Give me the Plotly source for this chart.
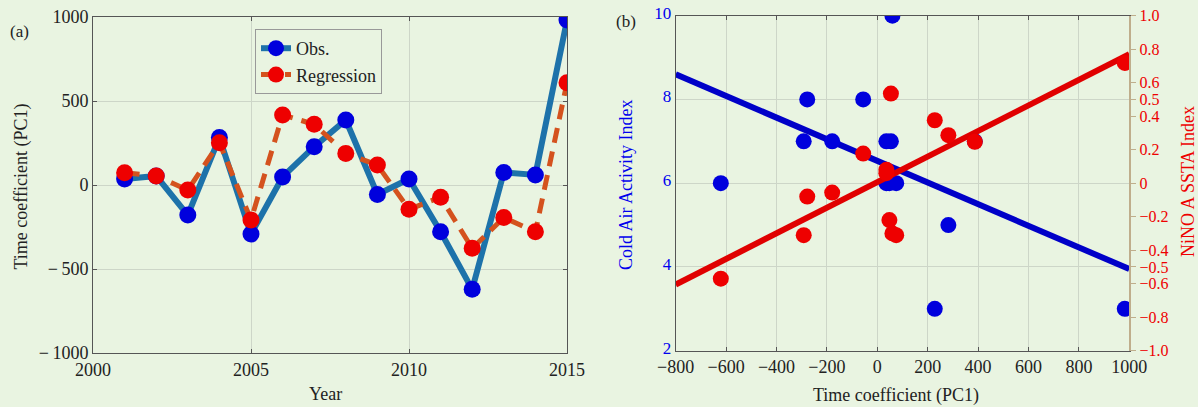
import plotly.graph_objects as go

# ---- data -------------------------------------------------------------
years = [2001, 2002, 2003, 2004, 2005, 2006, 2007, 2008,
         2009, 2010, 2011, 2012, 2013, 2014, 2015]
pc1_obs = [36, 54, -179, 282, -292, 48, 228, 387,
           -56, 36, -278, -621, 75, 60, 982]
pc1_reg = [73, 54, -30, 252, -208, 417, 361, 188,
           119, -145, -73, -377, -194, -278, 609]

cold_air_index = [6, 7, 7, 5, 7, 6, 3, 7, 8, 7, 8, 6, 6, 10, 3]
nino_a_ssta = [0.06, 0.535, -0.056, 0.287, -0.31, -0.22, 0.376, 0.247,
               0.177, 0.08, -0.08, -0.57, -0.31, -0.30, 0.718]

fit_x = [-800, 1000]
fit_cold = [8.6, 3.95]
fit_nino = [-0.605, 0.77]

year_ticks = [2000, 2005, 2010, 2015]
pc_ticks = [-1000, -500, 0, 500, 1000]
pc_ticktext = ["\u2212\u20091000", "\u2212\u2009500", "0", "500", "1000"]
coef_ticks = [-800, -600, -400, -200, 0, 200, 400, 600, 800, 1000]
coef_ticktext = ["\u2212800", "\u2212600", "\u2212400", "\u2212200", "0",
                 "200", "400", "600", "800", "1000"]
cold_ticks = [2, 4, 6, 8, 10]
nino_ticks = [1.0, 0.8, 0.6, 0.5, 0.4, 0.2, 0, -0.2, -0.4, -0.5, -0.6, -0.8, -1.0]
nino_ticktext = ["1.0", "0.8", "0.6", "0.5", "0.4", "0.2", "0",
                 "\u22120.2", "\u22120.4", "\u22120.5", "\u22120.6",
                 "\u22120.8", "\u22121.0"]

# ---- style ------------------------------------------------------------
W, H = 1198, 407
BG = "#e9f4e1"
FONT = "Liberation Serif, Times New Roman, serif"
GRID = "#cdd6c8"
AXIS = "#555555"
TAN = "#bfae8c"


def px_x(p):
    return p / W


def px_y(p):
    return 1 - p / H


fig = go.Figure()

# (a) time series
fig.add_trace(go.Scatter(
    x=years, y=pc1_obs, name="Obs.", mode="lines+markers",
    line=dict(color="#1d72aa", width=6),
    marker=dict(color="#0000dd", size=17),
    xaxis="x", yaxis="y"))
fig.add_trace(go.Scatter(
    x=years, y=pc1_reg, name="Regression", mode="lines+markers",
    line=dict(color="#d4521e", width=5, dash="15px,9px"),
    marker=dict(color="#ee0000", size=17),
    xaxis="x", yaxis="y"))

# (b) scatter with fitted lines
fig.add_trace(go.Scatter(
    x=fit_x, y=fit_cold, mode="lines", showlegend=False,
    line=dict(color="#0000c8", width=6), xaxis="x2", yaxis="y2"))
fig.add_trace(go.Scatter(
    x=pc1_obs, y=cold_air_index, mode="markers", showlegend=False,
    marker=dict(color="#0000dd", size=16), xaxis="x2", yaxis="y2"))
fig.add_trace(go.Scatter(
    x=fit_x, y=fit_nino, mode="lines", showlegend=False,
    line=dict(color="#e00000", width=6), xaxis="x2", yaxis="y3"))
fig.add_trace(go.Scatter(
    x=pc1_obs, y=nino_a_ssta, mode="markers", showlegend=False,
    marker=dict(color="#ee0000", size=16), xaxis="x2", yaxis="y3"))

tick_font = dict(family=FONT, size=18, color="#222222")

fig.update_layout(
    template="none",
    width=W, height=H,
    margin=dict(l=0, r=0, t=0, b=0, autoexpand=False),
    paper_bgcolor=BG, plot_bgcolor=BG,
    font=dict(family=FONT, size=18, color="#222222"),
    xaxis=dict(
        domain=[px_x(93), px_x(567)], range=[2000, 2015],
        tickvals=year_ticks, ticks="inside", ticklen=4, tickcolor=AXIS,
        showline=True, linecolor=AXIS, linewidth=1, mirror="ticks",
        showgrid=True, gridcolor=GRID, zeroline=False, automargin=False,
        tickfont=tick_font, anchor="y"),
    yaxis=dict(
        domain=[px_y(353), px_y(17)], range=[-1000, 1000],
        tickvals=pc_ticks, ticktext=pc_ticktext,
        ticks="inside", ticklen=4, tickcolor=AXIS,
        showline=True, linecolor=AXIS, linewidth=1, mirror="ticks",
        showgrid=True, gridcolor=GRID, zeroline=False, automargin=False,
        tickfont=tick_font, anchor="x"),
    xaxis2=dict(
        domain=[px_x(675.7), px_x(1129.3)], range=[-800, 1000],
        tickvals=coef_ticks, ticktext=coef_ticktext,
        ticks="inside", ticklen=4, tickcolor=AXIS,
        showline=True, linecolor=AXIS, linewidth=1, mirror="ticks",
        showgrid=True, gridcolor=GRID, zeroline=False, automargin=False,
        tickfont=dict(family=FONT, size=18, color="#222222"), anchor="y2"),
    yaxis2=dict(
        domain=[px_y(350.7), px_y(15.7)], range=[2, 10],
        tickvals=cold_ticks, ticks="", showline=True, linecolor=AXIS,
        linewidth=1, showgrid=True, gridcolor=GRID, zeroline=False,
        automargin=False, ticklabelshift=-3,
        tickfont=dict(family=FONT, size=17, color="#0000ee"), anchor="x2"),
    yaxis3=dict(
        overlaying="y2", side="right", anchor="x2", range=[-1, 1],
        tickvals=nino_ticks, ticktext=nino_ticktext,
        ticks="outside", ticklen=5, tickcolor=TAN,
        showline=True, linecolor=TAN, linewidth=2,
        showgrid=False, zeroline=False, automargin=False,
        tickfont=dict(family=FONT, size=16, color="#ee0000")),
    legend=dict(
        x=px_x(255), y=px_y(29), xanchor="left", yanchor="top",
        bgcolor=BG, bordercolor="#999999", borderwidth=1,
        font=dict(family=FONT, size=18, color="#222222"),
        tracegroupgap=0),
    showlegend=True,
)

annotations = [
    dict(text="(a)", x=px_x(19.5), y=px_y(31), font=dict(size=17)),
    dict(text="(b)", x=px_x(625.5), y=px_y(21.5), font=dict(size=17)),
    dict(text="Time coefficient (PC1)", x=px_x(20.5), y=px_y(187),
         textangle=-90),
    dict(text="Year", x=px_x(325), y=px_y(394)),
    dict(text="Time coefficient (PC1)", x=px_x(896), y=px_y(395)),
    dict(text="Cold Air Activity Index", x=px_x(625.5), y=px_y(184.5),
         textangle=-90, font=dict(color="#0000ee")),
    dict(text="NiNO A SSTA Index", x=px_x(1188), y=px_y(182),
         textangle=-90, font=dict(color="#ee0000")),
]
for a in annotations:
    font = dict(family=FONT, size=18, color="#222222")
    font.update(a.pop("font", {}))
    fig.add_annotation(xref="paper", yref="paper", showarrow=False,
                       xanchor="center", yanchor="middle", font=font, **a)

fig.write_html("out.html")
